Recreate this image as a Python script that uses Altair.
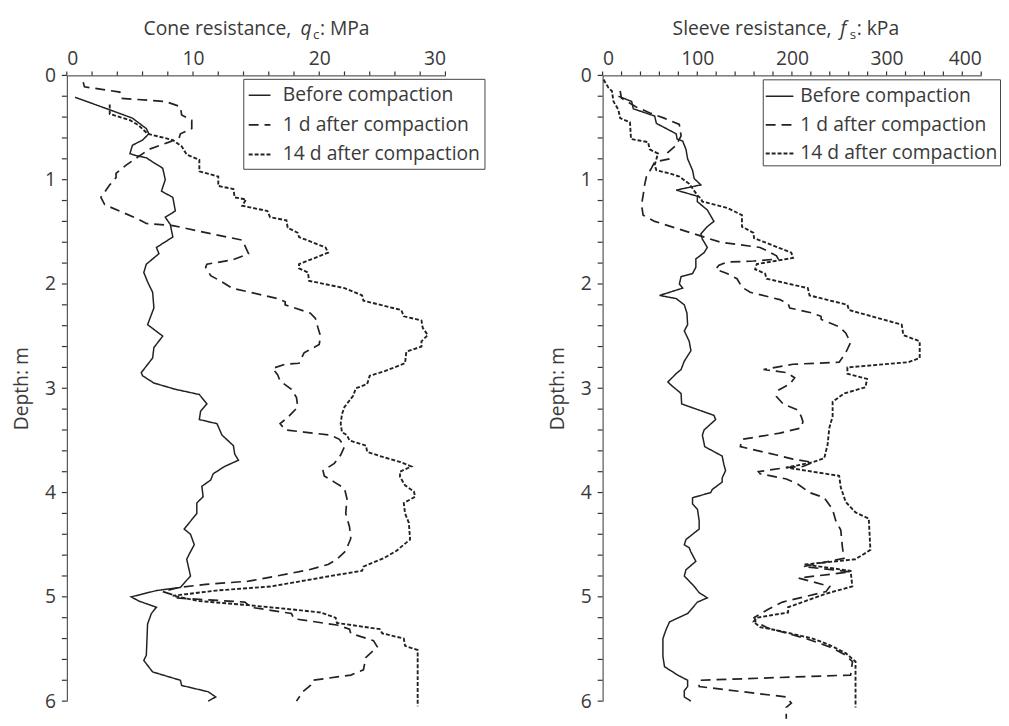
import altair as alt
import pandas as pd

SERIES = ["Before compaction", "1 d after compaction", "14 d after compaction"]

# ---------- Cone resistance qc (MPa) ----------
cone_before_depth = [0.21, 0.33, 0.41, 0.51, 0.56, 0.62, 0.67, 0.75, 0.77, 0.79, 0.83, 0.89, 1.00, 1.11, 1.17, 1.30, 1.36, 1.43, 1.55, 1.65, 1.71, 1.81, 1.89, 1.98, 2.08, 2.23, 2.39, 2.50, 2.61, 2.71, 2.85, 2.88, 2.95, 3.01, 3.06, 3.15, 3.22, 3.30, 3.34, 3.45, 3.55, 3.63, 3.69, 3.75, 3.82, 3.88, 3.94, 4.04, 4.10, 4.20, 4.29, 4.35, 4.40, 4.50, 4.59, 4.64, 4.80, 4.91, 4.94, 5.00, 5.04, 5.10, 5.16, 5.26, 5.56, 5.61, 5.72, 5.80, 5.85, 5.91, 5.96, 6.00]
cone_before_qc = [0.65, 3.4, 5.2, 6.3, 6.5, 6.0, 5.2, 5.0, 5.5, 6.3, 6.8, 7.6, 7.8, 7.5, 8.4, 8.6, 7.8, 8.2, 8.4, 7.1, 7.3, 6.3, 6.1, 6.4, 6.8, 6.9, 6.4, 7.6, 6.9, 6.8, 5.9, 6.0, 6.9, 8.6, 10.5, 11.1, 10.6, 10.5, 11.9, 12.3, 13.2, 13.3, 13.6, 12.5, 11.6, 11.4, 10.7, 10.8, 10.3, 10.3, 9.7, 9.3, 9.8, 10.1, 9.7, 9.5, 9.8, 9.0, 7.1, 5.1, 5.7, 7.1, 6.7, 6.4, 6.3, 6.1, 6.8, 9.0, 9.1, 11.2, 11.8, 11.2]

cone_1d_depth = [0.065, 0.11, 0.16, 0.22, 0.25, 0.30, 0.38, 0.43, 0.51, 0.56, 0.60, 0.64, 0.71, 0.86, 0.94, 0.98, 1.05, 1.17, 1.24, 1.38, 1.42, 1.44, 1.52, 1.58, 1.63, 1.71, 1.77, 1.81, 1.84, 1.92, 1.98, 2.04, 2.14, 2.17, 2.20, 2.28, 2.33, 2.42, 2.50, 2.58, 2.66, 2.76, 2.77, 2.81, 2.87, 2.93, 3.01, 3.09, 3.18, 3.28, 3.34, 3.40, 3.42, 3.45, 3.49, 3.56, 3.64, 3.72, 3.79, 3.84, 3.90, 3.96, 4.06, 4.20, 4.33, 4.44, 4.56, 4.64, 4.69, 4.74, 4.78, 4.85, 4.88, 4.91, 4.95, 4.98, 5.01, 5.05, 5.10, 5.16, 5.21, 5.27, 5.31, 5.35, 5.42, 5.48, 5.58, 5.70, 5.75, 5.80, 5.85, 5.91, 6.00]
cone_1d_qc = [1.3, 1.4, 4.2, 4.3, 7.8, 9.0, 9.1, 9.9, 9.9, 9.0, 8.9, 8.1, 6.5, 4.7, 3.9, 3.9, 3.4, 2.7, 3.0, 5.7, 6.3, 8.4, 11.5, 13.9, 14.1, 14.4, 13.1, 11.1, 11.0, 11.4, 12.3, 13.1, 16.7, 17.3, 17.3, 19.3, 19.7, 19.9, 20.1, 20.0, 18.8, 18.4, 17.3, 16.3, 16.7, 16.9, 17.8, 18.2, 18.3, 17.5, 16.9, 17.3, 18.8, 20.9, 21.6, 22.0, 21.7, 21.2, 20.3, 20.4, 21.2, 22.0, 22.2, 22.1, 22.4, 22.5, 22.1, 21.4, 20.7, 19.2, 17.5, 14.4, 11.0, 8.9, 7.6, 8.4, 8.6, 14.1, 14.6, 17.8, 18.0, 21.4, 22.4, 22.5, 24.3, 24.6, 23.7, 23.5, 22.5, 19.5, 19.3, 18.7, 18.2]

cone_14d_depth = [0.28, 0.37, 0.43, 0.48, 0.56, 0.62, 0.68, 0.76, 0.81, 0.92, 0.97, 1.06, 1.09, 1.17, 1.19, 1.25, 1.30, 1.36, 1.39, 1.46, 1.51, 1.55, 1.65, 1.70, 1.81, 1.85, 1.89, 1.97, 2.04, 2.11, 2.16, 2.25, 2.31, 2.35, 2.42, 2.49, 2.55, 2.60, 2.65, 2.76, 2.84, 2.88, 2.96, 3.00, 3.07, 3.18, 3.25, 3.34, 3.42, 3.45, 3.50, 3.55, 3.61, 3.65, 3.71, 3.75, 3.80, 3.85, 3.93, 3.99, 4.04, 4.10, 4.20, 4.29, 4.45, 4.56, 4.63, 4.71, 4.75, 4.80, 4.90, 4.94, 4.99, 5.04, 5.08, 5.12, 5.15, 5.20, 5.25, 5.31, 5.35, 5.40, 5.47, 5.51, 6.05]
cone_14d_qc = [3.4, 3.4, 5.0, 5.7, 6.4, 8.4, 9.1, 9.5, 10.5, 10.5, 12.0, 12.0, 13.2, 13.3, 14.2, 13.9, 15.9, 16.1, 17.4, 17.5, 18.3, 18.4, 20.5, 20.7, 18.4, 18.4, 19.1, 19.2, 22.0, 23.4, 23.5, 26.5, 26.7, 28.1, 28.2, 28.6, 28.1, 28.1, 26.9, 26.8, 25.1, 24.0, 23.8, 22.9, 22.7, 22.0, 21.8, 21.7, 21.8, 22.2, 22.4, 23.7, 23.8, 24.8, 26.5, 27.3, 26.4, 26.4, 26.8, 27.5, 27.6, 26.7, 26.8, 27.1, 27.2, 26.1, 25.1, 23.5, 23.4, 20.9, 16.2, 11.8, 8.4, 10.5, 14.4, 17.8, 20.1, 21.3, 21.4, 24.8, 25.0, 26.7, 26.8, 27.8, 27.8]

# ---------- Sleeve resistance fs (kPa) ----------
sleeve_before_depth = [0.20, 0.25, 0.32, 0.39, 0.46, 0.56, 0.61, 0.63, 0.71, 0.80, 0.91, 0.99, 1.05, 1.10, 1.15, 1.16, 1.21, 1.29, 1.40, 1.45, 1.52, 1.57, 1.65, 1.70, 1.76, 1.84, 1.90, 1.93, 2.00, 2.04, 2.11, 2.14, 2.20, 2.28, 2.39, 2.45, 2.55, 2.64, 2.74, 2.82, 2.86, 2.94, 2.97, 3.05, 3.15, 3.26, 3.30, 3.40, 3.45, 3.56, 3.65, 3.73, 3.79, 3.86, 3.90, 3.97, 4.00, 4.05, 4.11, 4.16, 4.27, 4.35, 4.45, 4.50, 4.53, 4.57, 4.66, 4.74, 4.80, 4.90, 4.96, 5.01, 5.05, 5.16, 5.24, 5.31, 5.40, 5.57, 5.67, 5.75, 5.80, 5.86, 5.90, 5.96, 6.00]
sleeve_before_fs = [16.7, 30.7, 32.4, 55, 56.8, 77.7, 78.7, 84.6, 88.1, 89.8, 95, 96.8, 103.8, 77.7, 96.8, 100.2, 100, 110.6, 117.6, 110.6, 103.8, 105.4, 110.6, 107.2, 98.5, 98.5, 95, 82.9, 81.1, 84.6, 60.2, 77.7, 86.3, 89.1, 89.8, 86.3, 91.5, 93.3, 86.3, 82.9, 77.7, 68.9, 72.4, 82.9, 83.5, 117.6, 119.4, 107.2, 105.4, 107.9, 126.3, 128.1, 129.9, 126.3, 126.3, 115.9, 114.2, 95, 95, 100.2, 102, 102, 88.1, 86.3, 91.5, 93.3, 98.5, 88.1, 86.3, 96.8, 102, 110.6, 100.2, 89.8, 70.7, 67.2, 63.7, 63.7, 65.4, 79.3, 89.8, 89.8, 86.3, 86.3, 93.3]

sleeve_1d_depth = [0.15, 0.22, 0.30, 0.36, 0.41, 0.47, 0.58, 0.67, 0.74, 0.80, 0.83, 0.89, 0.97, 1.04, 1.15, 1.24, 1.34, 1.40, 1.52, 1.60, 1.65, 1.68, 1.73, 1.76, 1.78, 1.79, 1.82, 1.86, 1.90, 1.95, 2.03, 2.08, 2.15, 2.19, 2.23, 2.28, 2.31, 2.34, 2.41, 2.47, 2.56, 2.66, 2.75, 2.77, 2.82, 2.85, 2.90, 2.96, 3.02, 3.08, 3.15, 3.21, 3.27, 3.32, 3.38, 3.43, 3.49, 3.56, 3.64, 3.68, 3.71, 3.75, 3.76, 3.80, 3.82, 3.87, 3.92, 4.00, 4.05, 4.16, 4.27, 4.36, 4.52, 4.63, 4.71, 4.76, 4.82, 4.90, 4.95, 5.05, 5.12, 5.20, 5.24, 5.30, 5.40, 5.48, 5.55, 5.62, 5.75, 5.80, 5.86, 5.96, 6.02, 6.06, 6.17]
sleeve_1d_fs = [18.5, 20, 35, 50, 65, 81, 82.9, 77.7, 68.9, 70.7, 55, 51.6, 46.3, 44.6, 42.8, 41.1, 42.8, 55, 96.8, 124.6, 166.4, 173.3, 183.7, 185.5, 159.4, 131.5, 122.9, 119.4, 131.5, 142, 147.2, 155.9, 187.3, 196, 197.7, 222, 230.7, 231, 249.9, 256.8, 262, 256.8, 249.9, 201.1, 170, 194.2, 202.9, 197.7, 185.5, 183.7, 190.7, 206.4, 209.8, 211.6, 209.8, 187.3, 147.2, 145.5, 183.7, 201.1, 222, 211.6, 194.2, 164.6, 166.4, 194.2, 206.4, 218.6, 234.2, 242.9, 246.3, 251.6, 253.3, 255, 212, 262, 207, 240, 236, 190, 175, 160, 162, 175, 215, 240, 255, 264, 262, 102, 102, 194.2, 199.4, 194, 194]

sleeve_14d_depth = [0.04, 0.12, 0.15, 0.25, 0.33, 0.41, 0.45, 0.61, 0.64, 0.71, 0.75, 0.86, 0.91, 0.94, 0.97, 1.04, 1.15, 1.18, 1.21, 1.27, 1.34, 1.45, 1.51, 1.56, 1.70, 1.75, 1.81, 1.86, 1.90, 1.95, 2.04, 2.11, 2.20, 2.25, 2.39, 2.49, 2.55, 2.71, 2.75, 2.80, 2.86, 2.91, 2.99, 3.05, 3.13, 3.27, 3.38, 3.54, 3.67, 3.71, 3.76, 3.84, 3.95, 4.09, 4.19, 4.25, 4.55, 4.64, 4.69, 4.75, 4.90, 4.97, 5.10, 5.15, 5.20, 5.24, 5.29, 5.32, 5.40, 5.46, 5.54, 5.62, 6.06]
sleeve_14d_fs = [1, 6.3, 9.8, 11.5, 16.7, 18.5, 28.9, 30, 48, 49.8, 58.5, 55, 56.8, 70.7, 81.1, 91.5, 100.2, 103.8, 105.4, 131.5, 147.2, 147.2, 159.4, 160, 199.4, 201.1, 162.8, 161.2, 171.6, 173.3, 216.8, 218.6, 258.6, 260.3, 316, 317.7, 335, 335, 323, 258.6, 258.6, 279.4, 277.7, 255.1, 243, 243, 239.5, 237.7, 234.2, 222, 194.2, 249.9, 251.6, 256.8, 267.2, 281.2, 282.9, 267, 213.4, 262, 263.8, 235.9, 196, 196, 162.8, 159.4, 166.4, 183.7, 222, 239.4, 256.8, 267.2, 267.2]

depth_ticks = [round(i * 0.2, 1) for i in range(31)]
depth_labels = [0, 1, 2, 3, 4, 5, 6]
cone_ticks = list(range(0, 31, 2))
cone_labels = [0, 10, 20, 30]
sleeve_ticks = list(range(0, 401, 20))
sleeve_labels = [0, 100, 200, 300, 400]

FONT = "Open Sans"
FS = 19.5
TXT = "#3a3a3a"
AXC = "#333333"
INK = "#222222"
DASHES = [[1, 0], [10, 6], [4, 2]]
WIDTHS = [1.5, 1.9, 1.2]
W, H = 383, 633
XTICK_PX, YTICK_PX = 4, 5


def long_table(parts):
    rows = []
    for name, depths, vals in parts:
        for i, (d, v) in enumerate(zip(depths, vals)):
            rows.append({"series": name, "depth": d, "value": v, "i": i})
    return pd.DataFrame(rows)


def text_layer(s, x, y, size=FS, style="normal", align="left"):
    return alt.Chart(pd.DataFrame({"t": [s]})).mark_text(
        font=FONT, fontSize=size, fontStyle=style, color=TXT,
        align=align, baseline="alphabetic"
    ).encode(text="t:N", x=alt.value(x), y=alt.value(y))


def panel(df, xdomain, xlabels, xticks, legend):
    xs = alt.Scale(domain=xdomain, nice=False, zero=False)
    ys = alt.Scale(domain=[0, 6], reverse=True, nice=False, zero=False)
    lines = alt.Chart(df).mark_line(color=INK, strokeCap="butt").encode(
        x=alt.X("value:Q", scale=xs,
                axis=alt.Axis(orient="top", values=xlabels, title=None, ticks=False,
                              labelOverlap=False, format="d")),
        y=alt.Y("depth:Q", scale=ys,
                axis=alt.Axis(values=depth_labels, title="Depth: m", ticks=False,
                              labelOverlap=False, format="d")),
        strokeDash=alt.StrokeDash("series:N", scale=alt.Scale(domain=SERIES, range=DASHES),
                                  legend=legend),
        strokeWidth=alt.StrokeWidth("series:N", scale=alt.Scale(domain=SERIES, range=WIDTHS),
                                    legend=None),
        order="i:Q",
    )
    # tick marks drawn through the panel's own scales, just outside the plot edge
    x_len = XTICK_PX * 6 / H
    y_len = YTICK_PX * (xdomain[1] - xdomain[0]) / W
    xt = alt.Chart(pd.DataFrame({"v": xticks})).mark_rule(color=AXC, strokeWidth=1.2).encode(
        x=alt.X("v:Q", scale=xs), y=alt.datum(0), y2=alt.datum(-x_len))
    yt = alt.Chart(pd.DataFrame({"d": depth_ticks})).mark_rule(color=AXC, strokeWidth=1.2).encode(
        y=alt.Y("d:Q", scale=ys), x=alt.datum(-y_len), x2=alt.datum(0))
    return [lines, xt, yt]


cone_df = long_table([
    (SERIES[0], cone_before_depth, cone_before_qc),
    (SERIES[1], cone_1d_depth, cone_1d_qc),
    (SERIES[2], cone_14d_depth, cone_14d_qc),
])
sleeve_df = long_table([
    (SERIES[0], sleeve_before_depth, sleeve_before_fs),
    (SERIES[1], sleeve_1d_depth, sleeve_1d_fs),
    (SERIES[2], sleeve_14d_depth, sleeve_14d_fs),
])

legend_common = dict(title=None, orient="none", symbolType="stroke", symbolStrokeWidth=1.5,
                     symbolStrokeColor=INK, labelFont=FONT, labelFontSize=FS, labelColor=TXT,
                     labelLimit=400, strokeColor="#444444", fillColor="white")

left_legend = alt.Legend(legendX=178.5, legendY=3.5, symbolSize=484, labelOffset=11.5,
                         padding=4.5, rowPadding=8, **legend_common)
right_legend = alt.Legend(legendX=162, legendY=4, symbolSize=784, labelOffset=6,
                          padding=2, rowPadding=4, **legend_common)

left = alt.layer(
    *panel(cone_df, [0, 30], cone_labels, cone_ticks, left_legend),
    text_layer("Cone resistance,", 227, -41, align="right"),
    text_layer("q", 236.5, -41, style="italic"),
    text_layer("c", 249, -36.5, size=13.5),
    text_layer(": MPa", 256, -41),
).properties(width=W, height=H)

right = alt.layer(
    *panel(sleeve_df, [0, 400], sleeve_labels, sleeve_ticks, right_legend),
    text_layer("Sleeve resistance,", 231.5, -41, align="right"),
    text_layer("f", 240.5, -41, style="italic"),
    text_layer("s", 250, -36.5, size=13.5),
    text_layer(": kPa", 257, -41),
).properties(width=W, height=H)

chart = alt.hconcat(left, right, spacing=63).resolve_scale(
    x="independent", y="independent", strokeDash="independent", strokeWidth="independent"
).resolve_legend(strokeDash="independent").properties(
    padding={"left": 3.5, "top": 7, "right": 0, "bottom": 0}
).configure_view(stroke=None).configure_axis(
    labelFont=FONT, labelFontSize=FS, labelColor=TXT,
    titleFont=FONT, titleFontSize=FS, titleFontWeight="normal", titleColor=TXT,
    domainColor=AXC, grid=False
).configure_axisY(
    labelPadding=11.5, titlePadding=13
).configure_axisX(
    labelPadding=7
)

chart.save("out.html", embed_options={"renderer": "svg", "actions": False})
